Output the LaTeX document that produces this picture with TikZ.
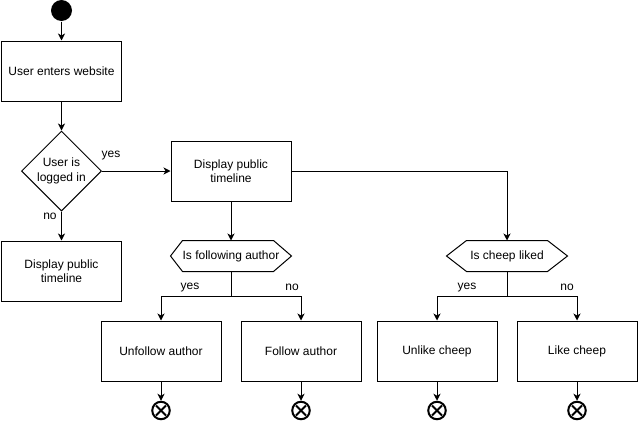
\documentclass[tikz,border=0pt]{standalone}
\usepackage{fontspec}
\setmainfont{Liberation Sans}
\usetikzlibrary{shapes.geometric,arrows.meta,calc}
\begin{document}
\begin{tikzpicture}[x=1pt,y=-1pt,line width=1pt,
  font=\fontsize{12}{14.5}\selectfont,
  box/.style={draw, minimum width=120pt, minimum height=60pt, align=center, inner sep=0pt},
  hexbox/.style={minimum width=120pt, minimum height=30pt, inner sep=0pt},
  dec/.style={diamond, draw, minimum width=80pt, minimum height=80pt, inner sep=0pt},
  startst/.style={circle, fill=black, minimum size=21pt, inner sep=0pt},
  endst/.style={circle, draw, line width=2pt, minimum size=17.5pt, inner sep=0pt,
    path picture={\draw[line width=2pt] ([shift={(-5pt,-5pt)}]path picture bounding box.center) -- ([shift={(5pt,5pt)}]path picture bounding box.center);
                  \draw[line width=2pt] ([shift={(-5pt,5pt)}]path picture bounding box.center) -- ([shift={(5pt,-5pt)}]path picture bounding box.center);}},
  arr/.style={-{Stealth[length=7pt,width=7pt,inset=2pt]}},
  lbl/.style={inner sep=0pt}
]
\useasboundingbox (0,0) rectangle (639,423);

\node[startst] (s) at (61.5,10.5) {};
\node[box] (b1) at (61.5,71) {User enters website};
\node[dec, label={[align=center]center:User is\\logged in}] (d) at (61.5,171) {};
\node[box] (b2) at (61.5,271) {Display public\\timeline};
\node[box] (b3) at (231,171) {Display public\\timeline};

\node[hexbox] (h1) at (231,256) {Is following author};
\node[hexbox] (h2) at (507,256) {Is cheep liked};
\draw (h1.west) -- ([xshift=12pt]h1.north west) -- ([xshift=-18pt]h1.north east) -- (h1.east)
  -- ([xshift=-18pt]h1.south east) -- ([xshift=12pt]h1.south west) -- cycle;
\draw (h2.west) -- ([xshift=20pt]h2.north west) -- ([xshift=-20pt]h2.north east) -- (h2.east)
  -- ([xshift=-20pt]h2.south east) -- ([xshift=20pt]h2.south west) -- cycle;

\node[box] (u1) at (161,351) {Unfollow author};
\node[box] (u2) at (301,351) {Follow author};
\node[box] (u3) at (437,351) {Unlike cheep};
\node[box] (u4) at (577,351) {Like cheep};

\node[endst] (e1) at (161,410.5) {};
\node[endst] (e2) at (301,410.5) {};
\node[endst] (e3) at (437,410.5) {};
\node[endst] (e4) at (577,410.5) {};

\coordinate (j1) at (231,296);
\coordinate (j2) at (507,296);

\draw[arr] (s) -- (b1);
\draw[arr] (b1) -- (d);
\draw[arr] (d.east) -- (b3.west);
\draw[arr] (d.south) -- (b2.north);
\draw[arr] (b3.south) -- (h1.north);
\draw[arr] (b3.east) -| (h2.north);
\draw (h1.south) -- (j1);
\draw (h2.south) -- (j2);
\draw[arr] (j1) -| (u1.north);
\draw[arr] (j1) -| (u2.north);
\draw[arr] (j2) -| (u3.north);
\draw[arr] (j2) -| (u4.north);
\draw[arr] (u1) -- (e1);
\draw[arr] (u2) -- (e2);
\draw[arr] (u3) -- (e3);
\draw[arr] (u4) -- (e4);

\node[lbl] (ly) at (111,156) {yes};
\node[lbl] (ln) at (50,216) {no};
\node[lbl] (ly1) at (190,288) {yes};
\node[lbl] (ln1) at (292,287) {no};
\node[lbl] (ly2) at (467,288) {yes};
\node[lbl] (ln2) at (567,287) {no};
\end{tikzpicture}
\end{document}
